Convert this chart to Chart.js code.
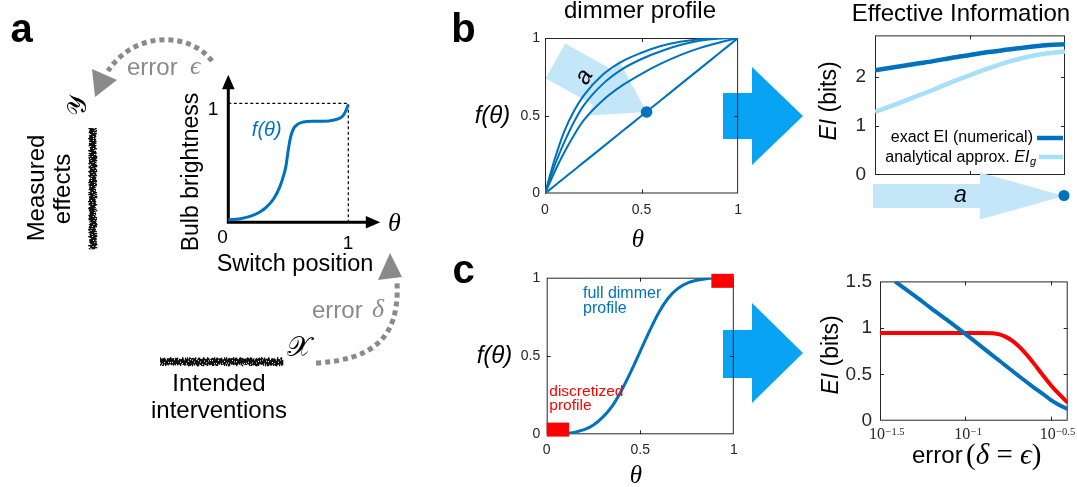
<!DOCTYPE html>
<html>
<head>
<meta charset="utf-8">
<title>dimmer profile and effective information</title>
<script src="https://cdn.jsdelivr.net/npm/chart.js@4.4.1/dist/chart.umd.min.js"></script>
<style>
  html, body { margin: 0; padding: 0; background: #fff; }
  body { position: relative; width: 1077px; height: 487px; overflow: hidden; font-family: "Liberation Sans", Arial, sans-serif; }
  canvas { position: absolute; }
  #bg { left: 0; top: 0; z-index: 0; }
  .c { z-index: 1; }
  .t { position: absolute; z-index: 2; white-space: nowrap; line-height: 1; color: #000; }
</style>
</head>
<body>
<canvas id="bg" width="1077" height="487"></canvas>
<canvas id="insetA" class="c"></canvas>
<canvas id="profileB" class="c"></canvas>
<canvas id="eiB" class="c"></canvas>
<canvas id="profileC" class="c"></canvas>
<canvas id="eiC" class="c"></canvas>
<div id="labels"></div>
<script>
// ---- data ----
// panel a: sketch of a dimmer, bulb brightness vs switch position
const insetTheta = [0, 0.1, 0.18, 0.26, 0.32, 0.38, 0.43, 0.46, 0.48, 0.5, 0.52, 0.54, 0.58, 0.625, 0.7, 0.8, 0.875, 0.93, 0.96, 0.985, 1];
const insetF     = [0.02, 0.03, 0.05, 0.085, 0.13, 0.2, 0.3, 0.39, 0.47, 0.61, 0.72, 0.78, 0.825, 0.843, 0.85, 0.85, 0.858, 0.875, 0.9, 0.95, 0.99];

// panel b: dimmer profiles for increasing a, and the EI they give
const thetaB    = [0, 0.05, 0.1, 0.15, 0.2, 0.3, 0.4, 0.5, 0.6, 0.7, 0.8, 0.9, 1];
const profileA1 = [0, 0.05, 0.1, 0.15, 0.2, 0.3, 0.4, 0.5, 0.6, 0.7, 0.8, 0.9, 1];
const profileA2 = [0, 0.14, 0.265, 0.375, 0.47, 0.6, 0.695, 0.77, 0.835, 0.89, 0.935, 0.97, 1];
const profileA3 = [0, 0.18, 0.33, 0.46, 0.565, 0.705, 0.8, 0.865, 0.915, 0.955, 0.983, 0.997, 1];
const profileA4 = [0, 0.22, 0.4, 0.53, 0.63, 0.765, 0.85, 0.905, 0.948, 0.976, 0.992, 0.999, 1];
const markedPoint = [0.526, 0.524];

const aGrid     = [0, 0.1, 0.2, 0.3, 0.4, 0.5, 0.6, 0.7, 0.8, 0.9, 1];
const eiExact   = [2.14, 2.2, 2.26, 2.32, 2.39, 2.45, 2.51, 2.56, 2.61, 2.65, 2.67];
const eiApprox  = [1.29, 1.43, 1.58, 1.73, 1.89, 2.04, 2.18, 2.31, 2.41, 2.48, 2.52];

// panel c: full sigmoid profile and its two-level discretization
const thetaC    = [0, 0.1, 0.2, 0.25, 0.3, 0.35, 0.4, 0.45, 0.5, 0.55, 0.6, 0.65, 0.7, 0.76, 0.85, 0.92, 1];
const sigmoidF  = [0, 0.004, 0.03, 0.06, 0.11, 0.18, 0.28, 0.4, 0.53, 0.66, 0.78, 0.87, 0.93, 0.97, 0.993, 0.998, 1];
const discreteLow  = { theta: [0, 0.12], f: 0.03 };
const discreteHigh = { theta: [0.88, 1], f: 0.98 };

// EI vs error, error on a log10 axis
const logErrFull = [-1.412, -1.3, -1.2, -1.1, -1.0, -0.9, -0.8, -0.7, -0.6, -0.55, -0.5, -0.45, -0.4];
const eiFull     = [1.5, 1.35, 1.21, 1.075, 0.935, 0.79, 0.645, 0.5, 0.36, 0.295, 0.225, 0.17, 0.125];
const logErrDisc = [-1.5, -1.2, -0.9, -0.84, -0.8, -0.76, -0.72, -0.68, -0.64, -0.6, -0.55, -0.5, -0.45, -0.4];
const eiDisc     = [0.945, 0.945, 0.945, 0.942, 0.93, 0.9, 0.855, 0.79, 0.71, 0.62, 0.5, 0.385, 0.285, 0.195];
const errTickExponents = [-1.5, -1, -0.5];

// ---- styles ----
const BLUE = '#0072bd', LIGHT = '#a5dff9', ARROW_LIGHT = '#c4e6f9', RED = '#ff0000';
const AXIS = '#262626', GRAY = '#8a8a8a', BIG_ARROW = '#08a3f3';
const SANS = '"Liberation Sans", Arial, Helvetica, sans-serif';
const SERIF = '"Liberation Serif", "Times New Roman", serif';
Chart.defaults.font.family = SANS;
Chart.defaults.color = AXIS;

const pts = (xs, ys) => xs.map((x, i) => ({ x, y: ys[i] }));

// ---- helpers for text ----
const labels = document.getElementById('labels');
// text with its baseline at (x, base)
function txt(html, x, base, size, align, st) {
  st = st || {};
  const d = document.createElement('div');
  d.className = 't';
  d.innerHTML = html;
  const k = st.serif ? 0.8375 : 0.8465;
  d.style.left = x + 'px';
  d.style.top = (base - k * size) + 'px';
  d.style.fontSize = size + 'px';
  if (st.serif) d.style.fontFamily = SERIF;
  if (st.italic) d.style.fontStyle = 'italic';
  if (st.bold) d.style.fontWeight = 'bold';
  if (st.color) d.style.color = st.color;
  d.style.transform = align === 'c' ? 'translateX(-50%)' : align === 'r' ? 'translateX(-100%)' : 'none';
  labels.appendChild(d);
}
// text turned -90deg round its centre (cx, cy)
function vtxt(html, cx, cy, size, st) {
  st = st || {};
  const d = document.createElement('div');
  d.className = 't';
  d.innerHTML = html;
  d.style.left = cx + 'px';
  d.style.top = cy + 'px';
  d.style.fontSize = size + 'px';
  if (st.serif) d.style.fontFamily = SERIF;
  if (st.italic) d.style.fontStyle = 'italic';
  d.style.transform = 'translate(-50%,-50%) rotate(-90deg)';
  labels.appendChild(d);
}

// ---- plugins ----
// matlab-like box with short inward ticks on all four sides
const matlabBox = {
  id: 'matlabBox',
  beforeDatasetsDraw(chart) {
    const { ctx, chartArea: a, scales } = chart;
    ctx.save();
    ctx.strokeStyle = AXIS;
    ctx.lineWidth = 1;
    ctx.strokeRect(a.left + 0.5, a.top + 0.5, a.width - 1, a.height - 1);
    const L = 4;
    ctx.beginPath();
    scales.x.ticks.forEach(t => {
      const p = Math.round(scales.x.getPixelForValue(t.value)) + 0.5;
      if (p < a.left + 2 || p > a.right - 2) return;
      ctx.moveTo(p, a.bottom); ctx.lineTo(p, a.bottom - L);
      ctx.moveTo(p, a.top); ctx.lineTo(p, a.top + L);
    });
    scales.y.ticks.forEach(t => {
      const p = Math.round(scales.y.getPixelForValue(t.value)) + 0.5;
      if (p < a.top + 2 || p > a.bottom - 2) return;
      ctx.moveTo(a.left, p); ctx.lineTo(a.left + L, p);
      ctx.moveTo(a.right, p); ctx.lineTo(a.right - L, p);
    });
    ctx.stroke();
    ctx.restore();
  }
};

function blockArrow(ctx, x0, y0, x1, y1, shaftHalf, headHalf, headLen, color) {
  const ang = Math.atan2(y1 - y0, x1 - x0);
  const len = Math.hypot(x1 - x0, y1 - y0);
  ctx.save();
  ctx.translate(x0, y0);
  ctx.rotate(ang);
  ctx.fillStyle = color;
  ctx.beginPath();
  ctx.moveTo(0, -shaftHalf);
  ctx.lineTo(len - headLen, -shaftHalf);
  ctx.lineTo(len - headLen, -headHalf);
  ctx.lineTo(len, 0);
  ctx.lineTo(len - headLen, headHalf);
  ctx.lineTo(len - headLen, shaftHalf);
  ctx.lineTo(0, shaftHalf);
  ctx.closePath();
  ctx.fill();
  ctx.restore();
}

// light arrow "a" across the profiles, pointing at the marked point
const profileArrow = {
  id: 'profileArrow',
  beforeDatasetsDraw(chart) {
    const { ctx, scales: { x, y } } = chart;
    const x0 = x.getPixelForValue(0.054), y0 = y.getPixelForValue(0.853);
    const x1 = x.getPixelForValue(markedPoint[0]), y1 = y.getPixelForValue(markedPoint[1]);
    blockArrow(ctx, x0, y0, x1, y1, 20, 32, 50, ARROW_LIGHT);
    const ang = Math.atan2(y1 - y0, x1 - x0);
    ctx.save();
    ctx.translate(x0 + 33 * Math.cos(ang), y0 + 33 * Math.sin(ang));
    ctx.rotate(ang - Math.PI / 2);
    ctx.fillStyle = '#000';
    ctx.font = `italic 24px ${SANS}`;
    ctx.textAlign = 'center';
    ctx.textBaseline = 'middle';
    ctx.fillText('a', 0, 0);
    ctx.restore();
  }
};

// legend inside the EI panel
const eiLegend = {
  id: 'eiLegend',
  afterDatasetsDraw(chart) {
    const { ctx, chartArea: a } = chart;
    const ds = chart.data.datasets;
    ctx.save();
    ctx.lineWidth = 4.5;
    [[-37, ds[0].borderColor, 27], [-18, ds[1].borderColor, 25]].forEach(([dy, col, w]) => {
      ctx.strokeStyle = col;
      ctx.beginPath();
      ctx.moveTo(a.right - w - 1, a.bottom + dy);
      ctx.lineTo(a.right - 2, a.bottom + dy);
      ctx.stroke();
    });
    ctx.fillStyle = '#000';
    ctx.textBaseline = 'alphabetic';
    ctx.textAlign = 'left';
    ctx.font = `16px ${SANS}`;
    const r1 = 'exact EI (numerical)';
    ctx.fillText(r1, a.right - 32 - ctx.measureText(r1).width, a.bottom - 33.4);
    let xr = a.right - 29;
    ctx.font = `italic 11px ${SANS}`;
    const wg = ctx.measureText('g').width;
    ctx.fillText('g', xr - wg, a.bottom - 10.5);
    xr -= wg + 0.5;
    ctx.font = `italic 16px ${SANS}`;
    const wei = ctx.measureText('EI').width;
    ctx.fillText('EI', xr - wei, a.bottom - 13.4);
    xr -= wei;
    ctx.font = `16px ${SANS}`;
    const r2 = 'analytical approx. ';
    ctx.fillText(r2, xr - ctx.measureText(r2).width, a.bottom - 13.4);
    ctx.restore();
  }
};

// the "a" arrow under the EI axis, ending in the dot at a = max
const aAxisArrow = {
  id: 'aAxisArrow',
  afterDraw(chart) {
    const { ctx, chartArea: a, scales: { x } } = chart;
    const cy = a.bottom + 21;
    const xEnd = x.getPixelForValue(1) - 1;
    blockArrow(ctx, x.getPixelForValue(0) - 2, cy, xEnd, cy, 12, 23.5, 84, ARROW_LIGHT);
    ctx.save();
    ctx.fillStyle = '#000';
    ctx.font = `italic 23px ${SANS}`;
    ctx.textAlign = 'center';
    ctx.textBaseline = 'alphabetic';
    ctx.fillText('a', x.getPixelForValue(0.45), cy + 6);
    ctx.fillStyle = BLUE;
    ctx.beginPath();
    ctx.arc(xEnd, cy - 0.5, 5.5, 0, Math.PI * 2);
    ctx.fill();
    ctx.restore();
  }
};

// 10^x tick labels for the log error axis
const logTickLabels = {
  id: 'logTickLabels',
  afterDraw(chart) {
    const { ctx, chartArea: a, scales: { x } } = chart;
    ctx.save();
    ctx.fillStyle = AXIS;
    ctx.textBaseline = 'alphabetic';
    x.ticks.forEach(t => {
      const px = x.getPixelForValue(t.value) - 3;
      ctx.font = `16px ${SERIF}`;
      const w10 = ctx.measureText('10').width;
      ctx.textAlign = 'left';
      ctx.fillText('10', px - w10 / 2, a.bottom + 18.6);
      ctx.font = `10.5px ${SERIF}`;
      ctx.fillText('\u2212' + Math.abs(t.value), px + w10 / 2 + 0.5, a.bottom + 13.8);
    });
    ctx.restore();
  }
};

// arrowed axes and dotted guides of the sketch in panel a
const insetAxes = {
  id: 'insetAxes',
  beforeDatasetsDraw(chart) {
    const { ctx, scales: { x, y } } = chart;
    const x0 = x.getPixelForValue(0), x1 = x.getPixelForValue(1);
    const y0 = y.getPixelForValue(0), y1 = y.getPixelForValue(1);
    ctx.save();
    ctx.strokeStyle = '#000';
    ctx.fillStyle = '#000';
    ctx.setLineDash([3, 2.5]);
    ctx.lineWidth = 1.2;
    ctx.beginPath();
    ctx.moveTo(x0, y1); ctx.lineTo(x1, y1); ctx.lineTo(x1, y0);
    ctx.stroke();
    ctx.setLineDash([]);
    ctx.lineWidth = 3;
    ctx.beginPath();
    ctx.moveTo(x0, y0 + 1.5); ctx.lineTo(x0, y1 - 15);
    ctx.moveTo(x0 - 1.5, y0); ctx.lineTo(x1 + 19, y0);
    ctx.stroke();
    ctx.beginPath();
    ctx.moveTo(x0, y1 - 28.5); ctx.lineTo(x0 - 6.3, y1 - 14); ctx.lineTo(x0 + 6.3, y1 - 14); ctx.closePath();
    ctx.fill();
    ctx.beginPath();
    ctx.moveTo(x1 + 32, y0); ctx.lineTo(x1 + 17.5, y0 - 6.3); ctx.lineTo(x1 + 17.5, y0 + 6.3); ctx.closePath();
    ctx.fill();
    ctx.restore();
  }
};

// ---- chart builder: puts the plot area exactly at `area` ----
function makeChart(id, box, area, cfg) {
  const cv = document.getElementById(id);
  cv.width = box.w; cv.height = box.h;
  cv.style.left = box.x + 'px'; cv.style.top = box.y + 'px';
  cv.style.width = box.w + 'px'; cv.style.height = box.h + 'px';
  const yW = area.l - box.x, xH = box.y + box.h - area.b;
  cfg.options = Object.assign({
    responsive: false,
    animation: false,
    events: [],
    layout: { padding: { left: 0, top: area.t - box.y, right: box.x + box.w - area.r, bottom: 0 } },
  }, cfg.options);
  cfg.options.plugins = Object.assign({ legend: { display: false }, tooltip: { enabled: false } }, cfg.options.plugins);
  cfg.options.scales.x.afterFit = s => { s.height = xH; };
  cfg.options.scales.y.afterFit = s => { s.width = yW; };
  return new Chart(cv, cfg);
}

// tick labels written like matlab does: 0, 0.5, 1
const plainNumber = v => String(+v.toFixed(3));

function axis(min, max, step, size, pad, show) {
  return {
    type: 'linear', min, max,
    grid: { display: false, drawTicks: false },
    border: { display: false },
    ticks: {
      display: show !== false,
      stepSize: step, includeBounds: false, padding: pad, maxRotation: 0,
      color: AXIS, font: { size }, callback: plainNumber,
    },
  };
}

const line = (data, color, width, extra) => Object.assign({
  type: 'line', data, borderColor: color, backgroundColor: color, borderWidth: width,
  pointRadius: 0, cubicInterpolationMode: 'monotone', fill: false,
}, extra || {});

// panel a sketch
makeChart('insetA', { x: 200, y: 60, w: 200, h: 200 }, { l: 228.3, t: 103.3, r: 348.3, b: 222.3 }, {
  type: 'line',
  data: { datasets: [line(pts(insetTheta, insetF), BLUE, 3, { clip: false })] },
  options: {
    scales: {
      x: { type: 'linear', min: 0, max: 1, display: false },
      y: { type: 'linear', min: 0, max: 1, display: false },
    },
  },
  plugins: [insetAxes],
});

// panel b, dimmer profiles
makeChart('profileB', { x: 500, y: 20, w: 250, h: 205 }, { l: 545, t: 38, r: 739, b: 193.5 }, {
  type: 'line',
  data: {
    datasets: [
      { type: 'scatter', data: [{ x: markedPoint[0], y: markedPoint[1] }], pointRadius: 5.8, backgroundColor: BLUE, borderWidth: 0, order: 0 },
      line(pts(thetaB, profileA1), BLUE, 2, { order: 1 }),
      line(pts(thetaB, profileA2), BLUE, 2, { order: 1 }),
      line(pts(thetaB, profileA3), BLUE, 2, { order: 1 }),
      line(pts(thetaB, profileA4), BLUE, 2, { order: 1 }),
    ],
  },
  options: { scales: { x: axis(0, 1, 0.5, 14, 8), y: axis(0, 1, 0.5, 14, 5) } },
  plugins: [profileArrow, matlabBox],
});

// panel b, effective information
makeChart('eiB', { x: 820, y: 15, w: 255, h: 215 }, { l: 875, t: 35, r: 1065, b: 175 }, {
  type: 'line',
  data: {
    datasets: [
      line(pts(aGrid, eiExact), BLUE, 4.5),
      line(pts(aGrid, eiApprox), LIGHT, 4.5),
    ],
  },
  options: { scales: { x: axis(0, 1, 0.5, 14, 0, false), y: axis(0, 2.85, 1, 19, 9) } },
  plugins: [matlabBox, eiLegend, aAxisArrow],
});

// panel c, full and discretized profiles
makeChart('profileC', { x: 500, y: 258, w: 245, h: 205 }, { l: 546.7, t: 277.7, r: 734.3, b: 434.3 }, {
  type: 'line',
  data: {
    datasets: [
      line(pts(discreteLow.theta, [discreteLow.f, discreteLow.f]), RED, 14, { cubicInterpolationMode: 'default', tension: 0, clip: false, order: 0 }),
      line(pts(discreteHigh.theta, [discreteHigh.f, discreteHigh.f]), RED, 14, { cubicInterpolationMode: 'default', tension: 0, clip: false, order: 0 }),
      line(pts(thetaC, sigmoidF), BLUE, 3, { order: 1 }),
    ],
  },
  options: { scales: { x: axis(0, 1, 0.5, 14, 7.3), y: axis(0, 1, 0.5, 14, 6.5) } },
  plugins: [matlabBox],
});

// panel c, EI vs error
const errAxis = axis(-1.5, -0.4, 0.5, 14, 0, false);
errAxis.afterBuildTicks = s => { s.ticks = errTickExponents.map(v => ({ value: v })); };
makeChart('eiC', { x: 825, y: 262, w: 250, h: 185 }, { l: 880, t: 280.7, r: 1067.7, b: 420.7 }, {
  type: 'line',
  data: {
    datasets: [
      line(pts(logErrFull, eiFull), BLUE, 4, { order: 0 }),
      line(pts(logErrDisc, eiDisc), RED, 4, { order: 1 }),
    ],
  },
  options: { scales: { x: errAxis, y: axis(0, 1.5, 0.5, 19, 8) } },
  plugins: [matlabBox, logTickLabels],
});

// ---- decorations: big arrows between panels, error arrows, noisy sample bars ----
const bg = document.getElementById('bg').getContext('2d');
function polygon(ctx, p, color) {
  ctx.fillStyle = color;
  ctx.beginPath();
  p.forEach(([x, y], i) => (i ? ctx.lineTo(x, y) : ctx.moveTo(x, y)));
  ctx.closePath();
  ctx.fill();
}
polygon(bg, [[723, 93], [752, 93], [752, 67], [803, 116], [752, 165], [752, 139], [723, 139]], BIG_ARROW);
polygon(bg, [[723, 330], [752, 330], [752, 303], [803, 353], [752, 403], [752, 378], [723, 378]], BIG_ARROW);

bg.save();
bg.strokeStyle = GRAY;
bg.lineWidth = 5;
bg.setLineDash([5, 4]);
bg.beginPath();
bg.moveTo(212, 61);
bg.bezierCurveTo(190, 32, 135, 30, 108, 71);
bg.stroke();
bg.beginPath();
bg.moveTo(316, 363);
bg.bezierCurveTo(370, 360, 400, 340, 397, 283);
bg.stroke();
bg.restore();
polygon(bg, [[92, 69], [117, 80], [95, 97]], GRAY);
polygon(bg, [[378, 280], [402, 277], [390, 253]], GRAY);

function jitter(i) { const s = Math.sin(i * 12.9898 + 78.233) * 43758.5453; return s - Math.floor(s); }
function noiseBar(ctx, x, y, len, thick, vertical) {
  ctx.fillStyle = '#111';
  for (let i = 0; i < len; i++) {
    const a = jitter(i) * 2.4, b = jitter(i + 500) * 2.4;
    if (vertical) ctx.fillRect(x + a, y + i, thick - a - b, 1.3);
    else ctx.fillRect(x + i, y + a, 1.3, thick - a - b);
  }
  ctx.fillStyle = '#fff';
  for (let i = 0; i < len; i += 2) {
    const o = 2 + jitter(i + 900) * (thick - 4);
    if (vertical) ctx.fillRect(x + o, y + i, 1, 1);
    else ctx.fillRect(x + i, y + o, 1, 1);
  }
}
noiseBar(bg, 88, 128, 121, 9.5, true);
noiseBar(bg, 160, 357, 123, 9.5, false);

// ---- text ----
txt('a', 21.5, 42, 40, 'c', { bold: true });
txt('b', 463.5, 42, 40, 'c', { bold: true });
txt('c', 463.5, 283, 40, 'c', { bold: true });

txt('dimmer profile', 640, 18.5, 24, 'c');
txt('Effective Information', 961, 21.7, 24, 'c');
txt('f(θ)', 492.5, 123, 24, 'c', { italic: true });
txt('θ', 638, 247, 25, 'c', { serif: true, italic: true });
vtxt('<i>EI</i> (bits)', 828, 101, 23);

txt('f(θ)', 494.5, 363, 24, 'c', { italic: true });
txt('θ', 636, 483, 25, 'c', { serif: true, italic: true });
vtxt('<i>EI</i> (bits)', 830, 355, 23);
txt('error', 912, 463, 24, 'l');
txt('(<i>δ</i> = <i>ϵ</i>)', 966, 464, 29, 'l', { serif: true });
txt('full dimmer', 583, 298.7, 16, 'l', { color: BLUE });
txt('profile', 583, 313.6, 16, 'l', { color: BLUE });
txt('discretized', 549.3, 396, 15.5, 'l', { color: RED });
txt('profile', 549.3, 410.3, 15.5, 'l', { color: RED });

txt('error', 127, 75, 24, 'l', { color: GRAY });
txt('<i>ϵ</i>', 190, 75, 26, 'l', { serif: true, color: GRAY });
txt('error', 312, 318, 24, 'l', { color: GRAY });
txt('<i>δ</i>', 372, 318, 26, 'l', { serif: true, color: GRAY });
vtxt('Bulb brightness', 190, 172, 23);
txt('Switch position', 295, 272, 23.5, 'c');
txt('0', 222.5, 243.3, 19, 'c');
txt('1', 213, 115, 19, 'c');
txt('1', 348, 249, 19, 'c');
txt('<i>θ</i>', 388, 232, 26, 'l', { serif: true });
txt('f(θ)', 266.7, 135.8, 20, 'c', { italic: true, color: BLUE });
vtxt('Measured', 36, 188, 24);
vtxt('effects', 62, 188.5, 24);
vtxt('𝒴', 78, 106, 26, { serif: true });
txt('𝒳', 299, 356, 28, 'c', { serif: true });
txt('Intended', 219, 391, 24, 'c');
txt('interventions', 219, 418, 24, 'c');
</script>
</body>
</html>
